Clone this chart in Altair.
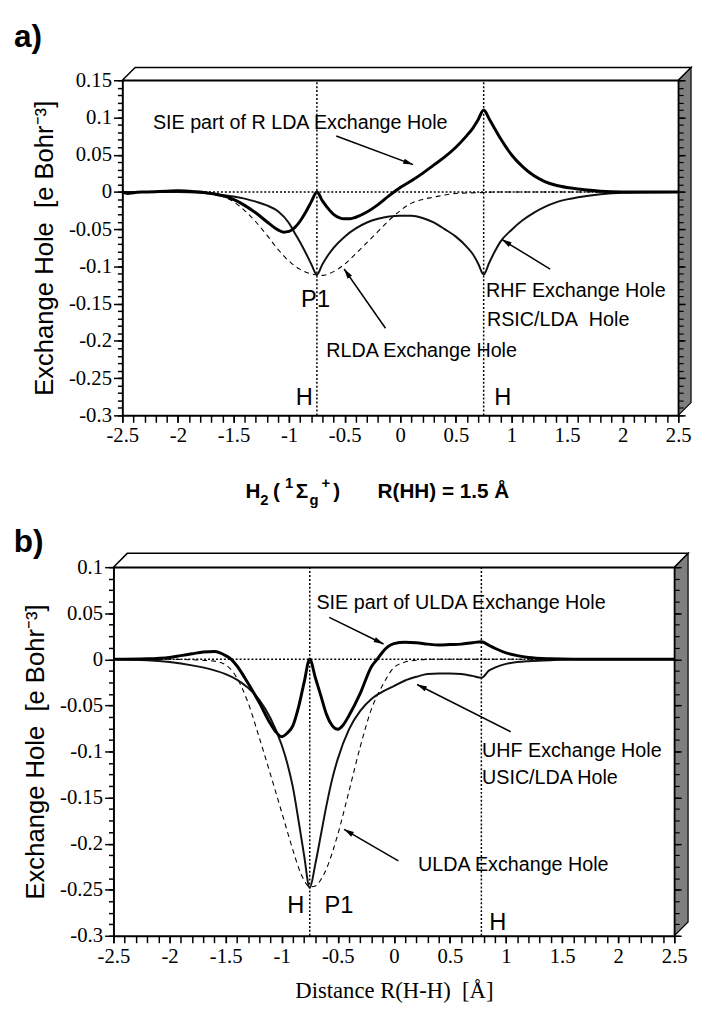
import math
import altair as alt
import pandas as pd

SANS = "Liberation Sans"
SERIF = "Liberation Serif"
NB = "\u00a0"

X_DOM = [-2.5, 2.5]
X_TICKS = [-2.5, -2.0, -1.5, -1.0, -0.5, 0.0, 0.5, 1.0, 1.5, 2.0, 2.5]
X_MINOR = [round(-2.5 + 0.1 * i, 2) for i in range(51)]

# ---------------- panel a data ----------------
A_Y_TICKS = [0.15, 0.1, 0.05, 0.0, -0.05, -0.1, -0.15, -0.2, -0.25, -0.3]
A_Y_MINOR = [round(0.15 - 0.01 * i, 3) for i in range(46)]

A_X_HF = [-2.5, -2.0, -1.8, -1.6, -1.5, -1.4, -1.3, -1.2, -1.1, -1.0, -0.95, -0.9, -0.85, -0.8, -0.75,
          -0.7, -0.65, -0.6, -0.5, -0.4, -0.3, -0.2, -0.1, 0.0, 0.1, 0.2, 0.3, 0.4, 0.5, 0.6, 0.65, 0.7,
          0.75, 0.8, 0.85, 0.9, 1.0, 1.1, 1.2, 1.3, 1.4, 1.5, 1.6, 1.8, 2.0, 2.5]
A_Y_HF = [0.0, 0.0, -0.001, -0.004, -0.006, -0.009, -0.013, -0.018, -0.026, -0.042, -0.055, -0.068, -0.082,
          -0.097, -0.111, -0.097, -0.085, -0.075, -0.06, -0.049, -0.041, -0.036, -0.033, -0.032, -0.032,
          -0.035, -0.041, -0.05, -0.06, -0.074, -0.083, -0.096, -0.111, -0.095, -0.08, -0.067, -0.051,
          -0.038, -0.028, -0.02, -0.014, -0.01, -0.007, -0.003, -0.001, 0.0]

A_X_LDA = [-2.5, -2.0, -1.8, -1.7, -1.6, -1.5, -1.4, -1.3, -1.2, -1.1, -1.0, -0.9, -0.8, -0.7, -0.6,
           -0.5, -0.4, -0.3, -0.2, -0.1, 0.0, 0.1, 0.2, 0.3, 0.4, 0.5, 0.7, 0.9, 1.5, 2.5]
A_Y_LDA = [0.0, 0.0, -0.001, -0.003, -0.006, -0.013, -0.025, -0.04, -0.058, -0.077, -0.093, -0.104, -0.11,
           -0.112, -0.107, -0.097, -0.083, -0.068, -0.053, -0.038, -0.025, -0.015, -0.01, -0.007, -0.004,
           -0.002, -0.001, 0.0, 0.0, 0.0]

A_X_SIE = [-2.5, -2.45, -2.4, -2.3, -2.1, -2.0, -1.9, -1.8, -1.7, -1.6, -1.5, -1.4, -1.3, -1.2, -1.1,
           -1.05, -1.0, -0.95, -0.9, -0.85, -0.8, -0.75, -0.7, -0.65, -0.6, -0.5, -0.45, -0.4, -0.3, -0.2,
           -0.1, 0.0, 0.1, 0.2, 0.3, 0.4, 0.5, 0.6, 0.65, 0.7, 0.75, 0.8, 0.85, 0.9, 1.0, 1.1, 1.2, 1.3,
           1.4, 1.5, 1.6, 1.8, 2.0, 2.5]
A_Y_SIE = [0.0, -0.002, -0.001, 0.0, 0.001, 0.0015, 0.001, 0.0, -0.002, -0.005, -0.01, -0.018, -0.028,
           -0.04, -0.051, -0.054, -0.053, -0.048, -0.039, -0.027, -0.013, 0.0, -0.012, -0.022, -0.03,
           -0.036, -0.036, -0.034, -0.027, -0.017, -0.005, 0.006, 0.015, 0.025, 0.036, 0.047, 0.06, 0.076,
           0.085, 0.097, 0.11, 0.098, 0.085, 0.072, 0.05, 0.034, 0.022, 0.014, 0.009, 0.006, 0.004, 0.001,
           0.0, 0.0]

A_VLINES = [-0.75, 0.75]

A_NOTES = ["SIE part of R LDA Exchange Hole", "RLDA Exchange Hole", "RHF Exchange Hole",
           "RSIC/LDA" + NB + NB + "Hole"]
A_NOTES_X = [-2.225, -0.665, 0.771, 0.780]
A_NOTES_Y = [0.084, -0.222, -0.1405, -0.180]

A_BIG = ["P1", "H", "H"]
A_BIG_X = [-0.762, -0.864, 0.922]
A_BIG_Y = [-0.154, -0.286, -0.286]

A_ARROWS_X = [-0.576, -0.133, 1.348]
A_ARROWS_Y = [0.0751, -0.183, -0.1035]
A_ARROWS_X2 = [0.115, -0.505, 0.913]
A_ARROWS_Y2 = [0.0367, -0.1035, -0.0638]

# middle title H2(1Σg+)  R(HH) = 1.5 Å, placed under panel a
T_MAIN = ["H", "(", "Σ", ")", "R(HH) = 1.5 Å"]
T_MAIN_X = [-1.392, -1.144, -0.940, -0.603, -0.204]
T_SUB = ["2", "g"]
T_SUB_X = [-1.259, -0.816]
T_SUP = ["1", "+"]
T_SUP_X = [-1.037, -0.709]
T_Y_MAIN = -0.4105
T_Y_SUB = -0.4197
T_Y_SUP = -0.3973

# ---------------- panel b data ----------------
B_Y_TICKS = [0.1, 0.05, 0.0, -0.05, -0.1, -0.15, -0.2, -0.25, -0.3]
B_Y_MINOR = [round(0.1 - 0.0125 * i, 5) for i in range(33)]

B_X_HF = [-2.5, -2.2, -2.0, -1.8, -1.6, -1.5, -1.4, -1.3, -1.2, -1.1, -1.0, -0.95, -0.9, -0.85, -0.8,
          -0.75, -0.7, -0.65, -0.6, -0.55, -0.5, -0.4, -0.3, -0.2, -0.1, 0.0, 0.1, 0.2, 0.3, 0.4, 0.5,
          0.6, 0.7, 0.78, 0.85, 0.9, 1.0, 1.1, 1.2, 1.4, 1.6, 2.5]
B_Y_HF = [0.0, -0.001, -0.003, -0.0066, -0.012, -0.016, -0.022, -0.031, -0.044, -0.064, -0.093, -0.113,
          -0.139, -0.175, -0.213, -0.248, -0.222, -0.19, -0.158, -0.13, -0.108, -0.076, -0.056, -0.043,
          -0.035, -0.029, -0.023, -0.019, -0.016, -0.0155, -0.0155, -0.016, -0.018, -0.02, -0.012, -0.009,
          -0.005, -0.003, -0.002, -0.001, 0.0, 0.0]

B_X_LDA = [-2.5, -2.0, -1.8, -1.6, -1.5, -1.4, -1.3, -1.2, -1.1, -1.0, -0.9, -0.85, -0.8, -0.75, -0.7,
           -0.65, -0.6, -0.5, -0.4, -0.3, -0.2, -0.1, 0.0, 0.1, 0.2, 0.3, 1.0, 2.5]
B_Y_LDA = [0.0, 0.0, -0.0005, -0.002, -0.006, -0.02, -0.047, -0.085, -0.125, -0.166, -0.207, -0.226, -0.24,
           -0.247, -0.246, -0.239, -0.227, -0.19, -0.143, -0.095, -0.054, -0.028, -0.009, -0.003, -0.001,
           0.0, 0.0, 0.0]

B_X_SIE = [-2.5, -2.2, -2.0, -1.9, -1.8, -1.7, -1.6, -1.55, -1.5, -1.45, -1.4, -1.3, -1.2, -1.1, -1.05,
           -1.0, -0.95, -0.9, -0.85, -0.8, -0.75, -0.7, -0.65, -0.6, -0.55, -0.5, -0.45, -0.4, -0.3, -0.2,
           -0.15, -0.1, -0.05, 0.0, 0.1, 0.2, 0.3, 0.4, 0.5, 0.6, 0.7, 0.78, 0.85, 0.9, 1.0, 1.1, 1.2,
           1.4, 1.6, 2.5]
B_Y_SIE = [0.0, 0.0005, 0.002, 0.004, 0.006, 0.008, 0.0085, 0.007, 0.004, 0.0, -0.007, -0.026, -0.047,
           -0.07, -0.079, -0.084, -0.08, -0.072, -0.052, -0.025, 0.0, -0.02, -0.04, -0.06, -0.072, -0.076,
           -0.071, -0.061, -0.037, -0.008, 0.0, 0.008, 0.014, 0.017, 0.0185, 0.018, 0.0165, 0.0155, 0.016,
           0.0165, 0.018, 0.019, 0.015, 0.012, 0.007, 0.004, 0.002, 0.0005, 0.0, 0.0]

B_VLINES = [-0.75, 0.78]

B_NOTES = ["SIE part of ULDA Exchange Hole", "UHF Exchange Hole", "USIC/LDA Hole", "ULDA Exchange Hole"]
B_NOTES_X = [-0.690, 0.786, 0.786, 0.215]
B_NOTES_Y = [0.0551, -0.1064, -0.1353, -0.2294]

B_BIG = ["H", "P1", "H"]
B_BIG_X = [-0.874, -0.49, 0.927]
B_BIG_Y = [-0.2754, -0.2754, -0.294]

B_ARROWS_X = [-0.576, 1.041, 0.040]
B_ARROWS_Y = [0.0455, -0.0786, -0.2187]
B_ARROWS_X2 = [-0.092, 0.207, -0.444]
B_ARROWS_Y2 = [0.0166, -0.0273, -0.1845]

Y_TITLE = "Exchange Hole" + NB + NB + "[e Bohr\u207b\u00b3]"
X_TITLE_B = "Distance R(H-H)" + NB + NB + "[Å]"

ARROW_SHAPE = "M0,0L-0.55,2L0.55,2Z"
LAB = "'' + datum.value"


def panel(W, H, xoff, ydom, y_major, y_minor, hf, lda, sie, vlines, notes, bigs, arrows,
          extras, xtitle, depth):
    sx = (W - xoff) / (X_DOM[1] - X_DOM[0])
    sy = H / (ydom[1] - ydom[0])
    xs = alt.Scale(domain=X_DOM, range=[xoff, W], nice=False, zero=False)
    ys = alt.Scale(domain=ydom, nice=False, zero=False)

    def X(f, ax=None):
        return alt.X(f, type="quantitative", scale=xs, axis=ax)

    def Y(f, ax=None):
        return alt.Y(f, type="quantitative", scale=ys, axis=ax)

    # 3-D box decoration
    ddx, ddy = depth / sx, depth / sy
    side = pd.DataFrame({"x": [X_DOM[1], X_DOM[1] + ddx],
                         "y": [ydom[1], ydom[1] + ddy],
                         "y2": [ydom[0], ydom[0] + ddy]})
    side_l = alt.Chart(side).mark_area(fill="#7f7f7f", stroke="black", strokeWidth=1.2,
                                       interpolate="linear").encode(
        x=X("x"), y=Y("y"), y2="y2")
    top = pd.DataFrame({"y": [ydom[1], ydom[1] + ddy],
                        "x": [X_DOM[0], X_DOM[0] + ddx],
                        "x2": [X_DOM[1], X_DOM[1] + ddx]})
    top_l = alt.Chart(top).mark_area(orient="horizontal", fill="white", stroke="black",
                                     strokeWidth=1.5, interpolate="linear").encode(
        y=Y("y"), x=X("x"), x2="x2")

    # dotted reference lines
    zero = pd.DataFrame({"x": [X_DOM[0]], "x2": [X_DOM[1]], "y": [0.0]})
    zero_l = alt.Chart(zero).mark_rule(color="black", strokeWidth=1.5, strokeDash=[2, 2]).encode(
        x=X("x"), x2="x2",
        y=Y("y", alt.Axis(orient="right", values=y_minor, tickSize=5, tickWidth=1.2, domain=False,
                          labels=False, title=None, zindex=1, tickColor="black")))
    vl = pd.DataFrame({"x": vlines, "y": [ydom[0]] * len(vlines), "y2": [ydom[1]] * len(vlines)})
    vl_l = alt.Chart(vl).mark_rule(color="black", strokeWidth=1.5, strokeDash=[2, 2]).encode(
        x=X("x", alt.Axis(orient="top", domain=True, domainWidth=1.5, domainColor="black",
                          ticks=False, labels=False, title=None)),
        y=Y("y"), y2="y2")

    # curves
    lda_l = alt.Chart(pd.DataFrame({"x": lda[0], "y": lda[1]})).mark_line(
        color="black", strokeWidth=1.1, strokeDash=[5, 4], interpolate="monotone").encode(
        x=X("x"),
        y=Y("y", alt.Axis(orient="right", values=y_major, tickSize=7, tickWidth=1.5, domainWidth=1.5,
                          domainColor="black", tickColor="black",
                          labels=False, title=None, zindex=1)))
    hf_l = alt.Chart(pd.DataFrame({"x": hf[0], "y": hf[1]})).mark_line(
        color="#111111", strokeWidth=2, interpolate="monotone").encode(
        x=X("x", alt.Axis(orient="bottom", values=X_TICKS, tickSize=7, tickWidth=1.5, domainWidth=2,
                          domainColor="black", tickColor="black", labelExpr=LAB,
                          labelFont=SERIF, labelFontSize=21, labelColor="black",
                          labelFlush=False, labelOverlap=False, labelPadding=3,
                          title=xtitle, titleFont=SERIF, titleFontSize=23, titlePadding=14,
                          titleFontWeight="normal", titleColor="black")),
        y=Y("y", alt.Axis(orient="left", values=y_major, tickSize=9, tickWidth=1.5, domainWidth=2,
                          domainColor="black", tickColor="black", labelExpr=LAB,
                          labelFont=SERIF, labelFontSize=21, labelColor="black",
                          labelFlush=False, labelOverlap=False, labelPadding=2,
                          offset=-xoff, title=Y_TITLE, titlePadding=11, titleFont=SANS,
                          titleFontSize=26, titleFontWeight="normal", titleColor="black")))
    sie_l = alt.Chart(pd.DataFrame({"x": sie[0], "y": sie[1]})).mark_line(
        color="black", strokeWidth=3, interpolate="monotone").encode(
        x=X("x", alt.Axis(orient="bottom", values=X_MINOR, tickSize=7, tickWidth=1.5, domain=False,
                          tickColor="black", labels=False, title=None)),
        y=Y("y", alt.Axis(orient="left", values=y_minor, tickSize=5, tickWidth=1.5, domain=False,
                          tickColor="black", labels=False, title=None, offset=-xoff)))

    # arrows
    ar = pd.DataFrame({"x": arrows[0], "y": arrows[1], "x2": arrows[2], "y2": arrows[3]})
    ang = []
    for a, b, c, d in zip(arrows[0], arrows[1], arrows[2], arrows[3]):
        dxp = (c - a) * sx
        dyp = -(d - b) * sy
        ang.append(math.degrees(math.atan2(dxp, -dyp)) % 360)
    ar["ang"] = ang
    rule_l = alt.Chart(ar).mark_rule(color="black", strokeWidth=1.5).encode(
        x=X("x"), y=Y("y"), x2="x2", y2="y2")
    head_l = alt.Chart(ar).mark_point(shape=ARROW_SHAPE, filled=True, color="black", size=100,
                                      opacity=1).encode(
        x=X("x2"), y=Y("y2"), angle=alt.Angle("ang:Q", scale=None))

    notes_l = alt.Chart(pd.DataFrame({"x": notes[1], "y": notes[2], "t": notes[0]})).mark_text(
        align="left", baseline="alphabetic", font=SANS, fontSize=20, color="black").encode(
        x=X("x"), y=Y("y"), text="t:N")
    bigs_l = alt.Chart(pd.DataFrame({"x": bigs[1], "y": bigs[2], "t": bigs[0]})).mark_text(
        align="center", baseline="alphabetic", font=SANS, fontSize=24, color="black").encode(
        x=X("x"), y=Y("y"), text="t:N")

    extra_layers = []
    for txt, xv, yv, size, weight in extras:
        df = pd.DataFrame({"x": xv, "y": yv, "t": txt})
        extra_layers.append(alt.Chart(df).mark_text(
            align="left", baseline="alphabetic", font=SANS, fontSize=size, fontWeight=weight,
            color="black").encode(x=X("x"), y=Y("y"), text="t:N"))

    layers = [side_l, top_l, zero_l, vl_l, lda_l, hf_l, sie_l, rule_l, head_l, notes_l, bigs_l] + extra_layers
    return alt.layer(*layers).resolve_axis(x="independent", y="independent").properties(
        width=W, height=H)


extras_a = [
    (["a)"], [-3.475], [0.194], 32, "bold"),
    (T_MAIN, T_MAIN_X, [T_Y_MAIN] * len(T_MAIN), 21, "bold"),
    (T_SUB, T_SUB_X, [T_Y_SUB] * len(T_SUB), 15, "bold"),
    (T_SUP, T_SUP_X, [T_Y_SUP] * len(T_SUP), 15, "bold"),
]
extras_b = [
    (["b)"], [-3.388], [0.116], 32, "bold"),
]

pa = panel(573, 340, 9, [-0.3, 0.15], A_Y_TICKS, A_Y_MINOR,
           (A_X_HF, A_Y_HF), (A_X_LDA, A_Y_LDA), (A_X_SIE, A_Y_SIE), A_VLINES,
           (A_NOTES, A_NOTES_X, A_NOTES_Y), (A_BIG, A_BIG_X, A_BIG_Y),
           (A_ARROWS_X, A_ARROWS_Y, A_ARROWS_X2, A_ARROWS_Y2), extras_a, None, 13)
pb = panel(569, 374, 0, [-0.3, 0.1], B_Y_TICKS, B_Y_MINOR,
           (B_X_HF, B_Y_HF), (B_X_LDA, B_Y_LDA), (B_X_SIE, B_Y_SIE), B_VLINES,
           (B_NOTES, B_NOTES_X, B_NOTES_Y), (B_BIG, B_BIG_X, B_BIG_Y),
           (B_ARROWS_X, B_ARROWS_Y, B_ARROWS_X2, B_ARROWS_Y2), extras_b, X_TITLE_B, 14)

chart = alt.vconcat(pa, pb, spacing=154, bounds="flush").properties(
    padding={"left": 5, "top": 6, "right": 0, "bottom": 0},
    background="white",
).configure_view(strokeWidth=0).configure_axis(
    grid=False, labelFont=SERIF, labelFontSize=21, labelColor="black",
    titleFont=SANS, titleFontSize=26, titleFontWeight="normal", titleColor="black",
    tickColor="black", domainColor="black",
)

chart.save("out.html", embed_options={"renderer": "svg", "actions": False})
